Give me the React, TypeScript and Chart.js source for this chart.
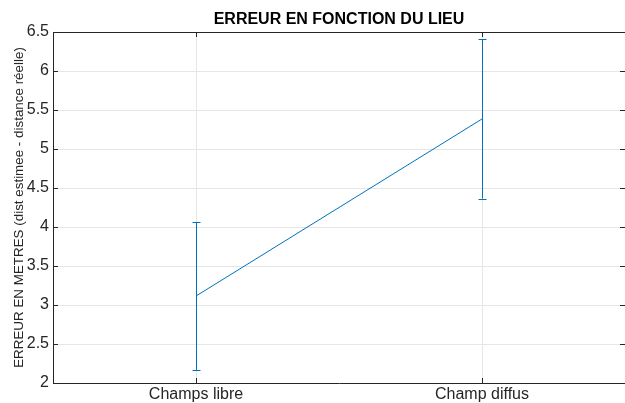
import React, { useEffect, useRef } from "react";
import { Chart, registerables } from "chart.js";

Chart.register(...registerables);

const categories = ["Champs libre", "Champ diffus"];
const means = [3.115, 5.385];
const errors = [0.95, 1.02];
const yTicks = [2, 2.5, 3, 3.5, 4, 4.5, 5, 5.5, 6, 6.5];

const TITLE = "ERREUR EN FONCTION DU LIEU";
const Y_TITLE = "ERREUR EN METRES (dist estimee - distance réelle)";
const BLUE = "#0072BD";
const AXIS = "#262626";
const GRID = "#e6e6e6";
const FONT = "'Liberation Sans', Arial, Helvetica, sans-serif";

const framePlugin = {
  id: "frame",
  afterDatasetsDraw(chart: any) {
    const { ctx, scales, chartArea } = chart;
    const x = scales.x;
    const y = scales.y;
    ctx.save();
    // error bars
    ctx.strokeStyle = BLUE;
    ctx.lineWidth = 1;
    means.forEach((m, i) => {
      const px = Math.round(x.getPixelForValue(i + 1)) + 0.5;
      const top = y.getPixelForValue(m + errors[i]);
      const bot = y.getPixelForValue(m - errors[i]);
      ctx.beginPath();
      ctx.moveTo(px, top);
      ctx.lineTo(px, bot);
      ctx.moveTo(px - 4, Math.round(top) + 0.5);
      ctx.lineTo(px + 4, Math.round(top) + 0.5);
      ctx.moveTo(px - 4, Math.round(bot) + 0.5);
      ctx.lineTo(px + 4, Math.round(bot) + 0.5);
      ctx.stroke();
    });
    // frame top border and inward ticks
    ctx.strokeStyle = AXIS;
    ctx.lineWidth = 1;
    const L = chartArea.left;
    const R = chartArea.right;
    const T = chartArea.top;
    const B = chartArea.bottom;
    ctx.beginPath();
    ctx.moveTo(L, Math.round(T) + 0.5);
    ctx.lineTo(R, Math.round(T) + 0.5);
    const tl = 5;
    categories.forEach((_, i) => {
      const px = Math.round(x.getPixelForValue(i + 1)) + 0.5;
      ctx.moveTo(px, B);
      ctx.lineTo(px, B - tl);
      ctx.moveTo(px, T);
      ctx.lineTo(px, T + tl);
    });
    yTicks.forEach((v) => {
      const py = Math.round(y.getPixelForValue(v)) + 0.5;
      ctx.moveTo(L, py);
      ctx.lineTo(L + tl, py);
      ctx.moveTo(R, py);
      ctx.lineTo(R - tl, py);
    });
    ctx.stroke();
    ctx.restore();
  },
};

export default function App() {
  const ref = useRef<HTMLCanvasElement | null>(null);
  useEffect(() => {
    if (!ref.current) return;
    const chart = new Chart(ref.current, {
      type: "line",
      data: {
        datasets: [
          {
            data: means.map((m, i) => ({ x: i + 1, y: m })),
            borderColor: BLUE,
            borderWidth: 1,
            pointRadius: 0,
            tension: 0,
            fill: false,
          },
        ],
      },
      options: {
        animation: false,
        responsive: true,
        maintainAspectRatio: false,
        layout: { padding: 0, autoPadding: false },
        plugins: {
          legend: { display: false },
          tooltip: { enabled: false },
          title: {
            display: true,
            text: TITLE,
            fullSize: false,
            color: "#000",
            font: { family: FONT, size: 16, weight: "bold", lineHeight: 1.2 },
            padding: { top: 9.5, bottom: 3.3 },
          },
        },
        scales: {
          x: {
            type: "linear",
            min: 0.5,
            max: 2.5,
            afterBuildTicks: (axis: any) => {
              axis.ticks = categories.map((_, i) => ({ value: i + 1 }));
            },
            afterFit: (axis: any) => {
              axis.height = 20;
            },
            ticks: {
              callback: (v: any) => categories[Math.round(v) - 1] ?? "",
              color: AXIS,
              font: { family: FONT, size: 16 },
              padding: 2,
              maxRotation: 0,
              autoSkip: false,
            },
            grid: { color: GRID, drawTicks: false },
            border: { display: true, color: AXIS, width: 1 },
          },
          y: {
            type: "linear",
            min: 2,
            max: 6.5,
            afterBuildTicks: (axis: any) => {
              axis.ticks = yTicks.map((v) => ({ value: v }));
            },
            afterFit: (axis: any) => {
              axis.width = 53;
            },
            ticks: {
              callback: (v: any) => String(v),
              color: AXIS,
              font: { family: FONT, size: 16 },
              padding: 4,
              autoSkip: false,
            },
            grid: { color: GRID, drawTicks: false },
            border: { display: true, color: AXIS, width: 1 },
            title: {
              display: true,
              text: Y_TITLE,
              color: AXIS,
              font: { family: FONT, size: 13.4 },
              padding: { top: 11, bottom: 0 },
            },
          },
        },
      },
      plugins: [framePlugin],
    } as any);
    return () => chart.destroy();
  }, []);
  return (
    <div style={{ position: "fixed", left: 0, top: 0, width: 625, height: 403, background: "#fff" }}>
      <canvas ref={ref} />
    </div>
  );
}
